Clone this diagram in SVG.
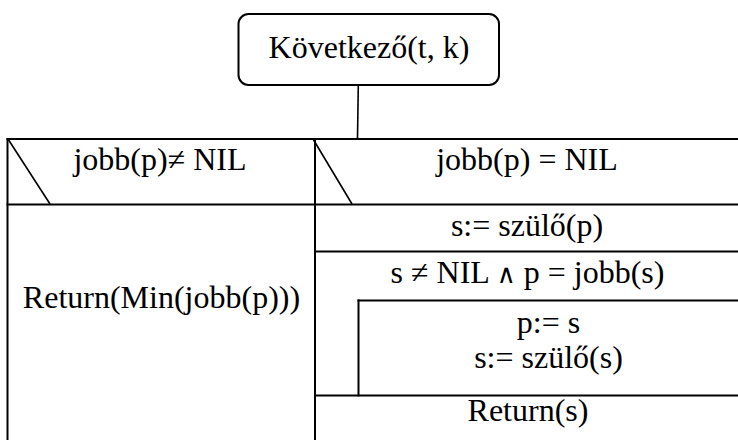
<svg xmlns="http://www.w3.org/2000/svg" width="738" height="440" viewBox="0 0 738 440">
<style>
.ln{stroke:#000;stroke-width:2;fill:none;stroke-linecap:square}
.thin{stroke:#000;stroke-width:1.6;fill:none}
text{font-family:"Liberation Serif","DejaVu Serif",serif;font-size:32px;fill:#000;text-anchor:middle}
.op{font-family:"DejaVu Serif","Liberation Serif",serif;font-weight:normal;font-size:26px}
</style>
<rect width="738" height="440" fill="#fff"/>
<g id="start">
<rect class="ln" x="238.5" y="14" width="260.5" height="71" rx="10" ry="10"/>
<text x="369" y="58">Következő(t, k)</text>
</g>
<g id="connectors">
<line class="thin" x1="358.3" y1="85" x2="357.5" y2="139"/>
</g>
<g id="branch-left">
<line class="ln" x1="7.5" y1="139" x2="315" y2="139"/>
<line class="ln" x1="7.5" y1="139" x2="7.5" y2="441"/>
<line class="ln" x1="7.5" y1="204.5" x2="315" y2="204.5"/>
<line class="thin" x1="8" y1="139" x2="50" y2="204"/>
<text x="160" y="170">jobb(p)≠ NIL</text>
</g>
<g id="branch-right">
<line class="ln" x1="315" y1="139" x2="739" y2="139"/>
<line class="ln" x1="315" y1="139" x2="315" y2="441"/>
<line class="ln" x1="315" y1="204.5" x2="739" y2="204.5"/>
<line class="thin" x1="313" y1="139" x2="352" y2="204"/>
<text x="527" y="170">jobb(p) = NIL</text>
</g>
<g id="return-min">
<text x="161.5" y="308">Return(Min(jobb(p)))</text>
</g>
<g id="assign-s">
<line class="ln" x1="315" y1="251.5" x2="739" y2="251.5"/>
<text x="527" y="236">s:= szülő(p)</text>
</g>
<g id="loop">
<text x="527.5" y="283">s ≠ NIL <tspan class="op">∧</tspan> p = jobb(s)</text>
</g>
<g id="loop-body">
<line class="ln" x1="358.5" y1="300.5" x2="739" y2="300.5"/>
<line class="ln" x1="358.5" y1="300.5" x2="358.5" y2="395.5"/>
<text x="548.5" y="333">p:= s</text>
<text x="548.5" y="368">s:= szülő(s)</text>
</g>
<g id="return-s">
<line class="ln" x1="315" y1="395.5" x2="739" y2="395.5"/>
<text x="528" y="421">Return(s)</text>
</g>
</svg>
